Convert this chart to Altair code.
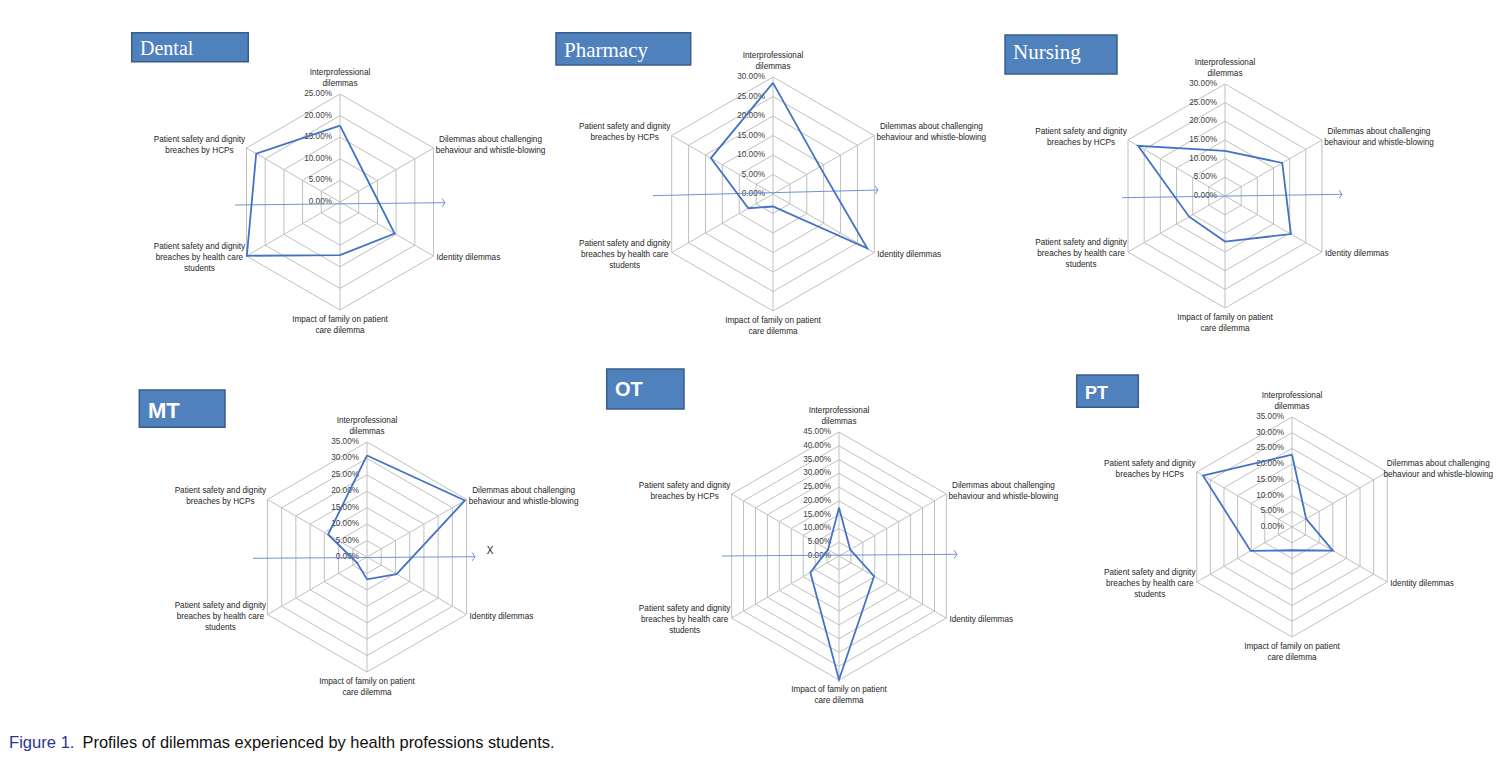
import altair as alt
import pandas as pd

# ---------------- data ----------------
CATEGORIES = [
    "Interprofessional\ndilemmas",
    "Dilemmas about challenging\nbehaviour and whistle-blowing",
    "Identity dilemmas",
    "Impact of family on patient\ncare dilemma",
    "Patient  safety and dignity\nbreaches by health care\nstudents",
    "Patient safety and dignity\nbreaches by HCPs",
]
PANELS = ["Dental", "Pharmacy", "Nursing", "MT", "OT", "PT"]

dental = [17.7, 8.0, 14.6, 12.3, 24.9, 22.4]
pharmacy = [28.5, 13.9, 27.9, 3.2, 7.3, 18.4]
nursing = [12.1, 17.7, 20.4, 12.2, 11.1, 26.9]
mt = [30.9, 34.4, 10.4, 6.8, 3.5, 13.7]
ot = [17.5, 4.7, 14.7, 44.9, 12.0, 4.6]
pt = [23.0, 5.2, 15.0, 7.4, 15.2, 32.7]
VALUES = [dental, pharmacy, nursing, mt, ot, pt]

AXIS_MAX = [25, 30, 30, 35, 45, 35]
TICK_STEP = 5

CAPTION_LEAD = "Figure 1."
CAPTION_TEXT = "Profiles of dilemmas experienced by health professions students."

# ---------------- layout (page pixels) ----------------
CENTER = {  # cx, cy, radius
    "Dental": (340, 202, 108),
    "Pharmacy": (773, 194, 117),
    "Nursing": (1225, 196, 112),
    "MT": (367, 557, 115),
    "OT": (839, 556, 124),
    "PT": (1292, 527, 110),
}
TITLE_BOX = {  # x0, x1, y0, y1, text x, baseline y, font, size, weight
    "Dental": (131.7, 248.3, 32.7, 61.7, 140, 55, "Liberation Serif", 20, "normal"),
    "Pharmacy": (556, 690.7, 32.7, 65, 564, 57, "Liberation Serif", 21, "normal"),
    "Nursing": (1005, 1117, 35, 74, 1013, 59, "Liberation Serif", 21, "normal"),
    "MT": (139.3, 225, 390, 427.3, 148, 418, "Liberation Sans", 22, "bold"),
    "OT": (606.7, 684, 369, 409, 615, 396, "Liberation Sans", 20, "bold"),
    "PT": (1076.7, 1138.3, 375, 407.3, 1085, 399, "Liberation Sans", 18, "bold"),
}
ARROWS = {  # x0, y0, x1, y1
    "Dental": (235, 205, 445, 202.7),
    "Pharmacy": (653, 195.7, 878, 190),
    "Nursing": (1122, 197.7, 1342, 194.3),
    "MT": (253, 558.3, 475, 556.7),
    "OT": (722, 556, 957, 554.3),
}
# offsets of the first text line from the outer vertex of each spoke
LABEL_DX = [0, 57, 3, 0, -47, -47]
LABEL_DY = [-21.5, -8.5, 2, 10, -9, -8.5]
LABEL_DX_OVERRIDE = {("PT", 1): 51}

W, H = 1489, 745
XS = alt.Scale(domain=[8, 8 + W], range=[0, W], nice=False, zero=False)
YS = alt.Scale(domain=[8, 8 + H], range=[0, H], nice=False, zero=False)

GRID = "#c0c0c0"
LINE = "#4472c4"
ARROW = "#6e93d6"
FONT = "Liberation Sans"

# ---------------- tables ----------------
series_rows, grid_rows, spoke_rows, tick_rows, label_rows = [], [], [], [], []
for p, vals, vmax in zip(PANELS, VALUES, AXIS_MAX):
    cx, cy, R = CENTER[p]
    base = dict(panel=p, cx=cx, cy=cy, R=R, vmax=vmax)
    for i in range(7):
        series_rows.append(dict(base, idx=i % 6, value=vals[i % 6], order=i))
    n = vmax // TICK_STEP
    for k in range(1, n + 1):
        for i in range(7):
            grid_rows.append(dict(base, idx=i % 6, value=k * TICK_STEP, order=i,
                                  ring=f"{p}-{k}"))
    for i in range(6):
        spoke_rows.append(dict(base, idx=i, value=vmax))
        label_rows.append(dict(base, idx=i, value=vmax, label=CATEGORIES[i],
                               ldx=LABEL_DX_OVERRIDE.get((p, i), LABEL_DX[i]),
                               ldy=LABEL_DY[i]))
    for k in range(0, n + 1):
        tick_rows.append(dict(base, idx=0, value=k * TICK_STEP,
                              label=f"{k * TICK_STEP:.2f}%"))

series = pd.DataFrame(series_rows)
grid = pd.DataFrame(grid_rows)
spokes = pd.DataFrame(spoke_rows)
ticks = pd.DataFrame(tick_rows)
labels = pd.DataFrame(label_rows)

titles = pd.DataFrame([
    dict(panel=p, x0=v[0], x1=v[1], y0=v[2], y1=v[3], tx=v[4], ty=v[5])
    for p, v in TITLE_BOX.items()
])
arrows = pd.DataFrame([
    dict(panel=p, x0=v[0], y0=v[1], x1=v[2], y1=v[3]) for p, v in ARROWS.items()
])
caption = pd.DataFrame([dict(x=9, y=748, t=CAPTION_LEAD)])
caption2 = pd.DataFrame([dict(x=82.5, y=748, t=CAPTION_TEXT)])
xmark = pd.DataFrame([dict(x=490, y=551, t="X")])


def polar(chart):
    return chart.transform_calculate(
        ang="PI * datum.idx / 3",
    ).transform_calculate(
        x="datum.cx + datum.R * datum.value / datum.vmax * sin(datum.ang)",
        y="datum.cy - datum.R * datum.value / datum.vmax * cos(datum.ang)",
    )


X = alt.X("x:Q", scale=XS, axis=None)
Y = alt.Y("y:Q", scale=YS, axis=None)

grid_layer = polar(alt.Chart(grid)).mark_line(
    color=GRID, strokeWidth=1).encode(x=X, y=Y, detail="ring:N", order="order:Q")

spoke_layer = polar(alt.Chart(spokes)).mark_rule(
    color=GRID, strokeWidth=1).encode(x=X, y=Y, x2="cx:Q", y2="cy:Q")

tick_layer = polar(alt.Chart(ticks)).mark_text(
    align="right", baseline="middle", dx=-8, font=FONT, fontSize=8.2,
    color="#404040").encode(x=X, y=Y, text="label:N")

arrow_line = alt.Chart(arrows).mark_rule(color=ARROW, strokeWidth=1).encode(
    x=alt.X("x0:Q", scale=XS, axis=None), y=alt.Y("y0:Q", scale=YS, axis=None),
    x2="x1:Q", y2="y1:Q")
arrow_head = alt.Chart(arrows).mark_point(
    shape="M-0.7,-1L0,0L-0.7,1", filled=False, size=70, color=ARROW,
    strokeWidth=1, opacity=1).encode(
    x=alt.X("x1:Q", scale=XS, axis=None), y=alt.Y("y1:Q", scale=YS, axis=None))

series_layer = polar(alt.Chart(series)).mark_line(
    color=LINE, strokeWidth=1.8).encode(x=X, y=Y, detail="panel:N", order="order:Q")


def label_layer(cond, align):
    return polar(alt.Chart(labels)).transform_filter(cond).transform_calculate(
        lx="datum.x + datum.ldx", ly="datum.y + datum.ldy"
    ).mark_text(align=align, baseline="middle", lineBreak="\n", font=FONT,
                fontSize=8.2, lineHeight=11, color="#262626").encode(
        x=alt.X("lx:Q", scale=XS, axis=None), y=alt.Y("ly:Q", scale=YS, axis=None),
        text="label:N")


lab_center = label_layer("datum.idx != 2", "center")
lab_left = label_layer("datum.idx == 2", "left")

box_layer = alt.Chart(titles).mark_rect(
    color="#4f81bd", stroke="#385d8a", strokeWidth=1.5).encode(
    x=alt.X("x0:Q", scale=XS, axis=None), x2="x1:Q",
    y=alt.Y("y0:Q", scale=YS, axis=None), y2="y1:Q")

title_layers = []
for p, v in TITLE_BOX.items():
    title_layers.append(
        alt.Chart(titles).transform_filter(alt.datum.panel == p).mark_text(
            align="left", baseline="alphabetic", font=v[6], fontSize=v[7],
            fontWeight=v[8], color="white").encode(
            x=alt.X("tx:Q", scale=XS, axis=None), y=alt.Y("ty:Q", scale=YS, axis=None),
            text="panel:N"))

cap1 = alt.Chart(caption).mark_text(
    align="left", baseline="alphabetic", font=FONT, fontSize=16.6,
    color="#27388f").encode(
    x=alt.X("x:Q", scale=XS, axis=None), y=alt.Y("y:Q", scale=YS, axis=None), text="t:N")
cap2 = alt.Chart(caption2).mark_text(
    align="left", baseline="alphabetic", font=FONT, fontSize=16.4,
    color="#111111").encode(
    x=alt.X("x:Q", scale=XS, axis=None), y=alt.Y("y:Q", scale=YS, axis=None), text="t:N")
x_text = alt.Chart(xmark).mark_text(
    align="center", baseline="middle", font=FONT, fontSize=10, color="#222222").encode(
    x=alt.X("x:Q", scale=XS, axis=None), y=alt.Y("y:Q", scale=YS, axis=None), text="t:N")

chart = alt.layer(
    grid_layer, spoke_layer, tick_layer, arrow_line, arrow_head, series_layer,
    lab_center, lab_left, box_layer, *title_layers, cap1, cap2, x_text,
).properties(
    width=W, height=H, autosize="none", padding=0,
).configure_view(stroke=None)

chart.save("out.html", embed_options={"renderer": "svg", "actions": False})
